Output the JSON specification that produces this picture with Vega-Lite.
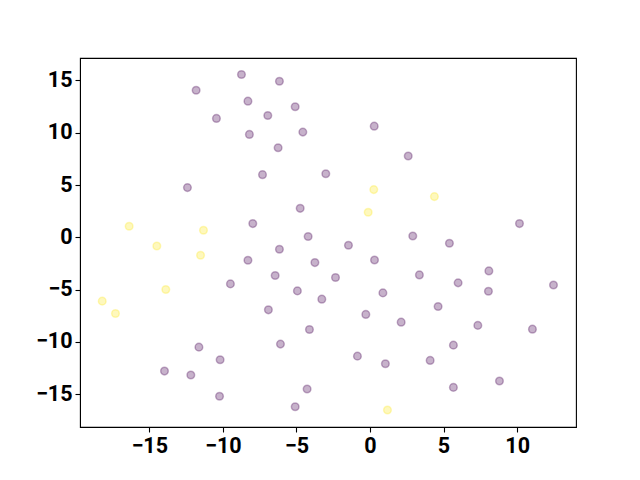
{
  "$schema": "https://vega.github.io/schema/vega-lite/v6.json",
  "width": 496,
  "height": 369,
  "autosize": {"type": "none"},
  "padding": {"left": 80, "top": 58, "right": 64, "bottom": 53},
  "background": "white",
  "config": {
    "view": {"stroke": "black", "strokeWidth": 1.1},
    "axis": {
      "grid": false,
      "domainColor": "black",
      "tickColor": "black",
      "tickSize": 5,
      "tickWidth": 1.1,
      "labelFont": "Roboto",
      "labelFontWeight": "bold",
      "labelFontSize": 21.5,
      "labelColor": "black",
      "labelPadding": 3,
      "title": null
    }
  },
  "data": {
    "values": [
      {"x": -8.73, "y": 15.57, "c": 0}, {"x": -6.15, "y": 14.93, "c": 0}, {"x": -11.81, "y": 14.07, "c": 0},
      {"x": -8.29, "y": 13.02, "c": 0}, {"x": -5.08, "y": 12.48, "c": 0}, {"x": -6.94, "y": 11.65, "c": 0},
      {"x": -10.43, "y": 11.37, "c": 0}, {"x": -4.56, "y": 10.06, "c": 0}, {"x": -8.19, "y": 9.84, "c": 0},
      {"x": -6.24, "y": 8.57, "c": 0}, {"x": -7.3, "y": 5.99, "c": 0}, {"x": -3.0, "y": 6.08, "c": 0},
      {"x": -12.4, "y": 4.75, "c": 0}, {"x": -4.74, "y": 2.77, "c": 0}, {"x": -7.96, "y": 1.31, "c": 0},
      {"x": -4.2, "y": 0.07, "c": 0}, {"x": 0.29, "y": 10.63, "c": 0}, {"x": 2.6, "y": 7.77, "c": 0},
      {"x": 10.16, "y": 1.31, "c": 0}, {"x": 2.91, "y": 0.12, "c": 0}, {"x": -1.46, "y": -0.76, "c": 0},
      {"x": 5.4, "y": -0.57, "c": 0}, {"x": -6.15, "y": -1.15, "c": 0}, {"x": -8.29, "y": -2.2, "c": 0},
      {"x": -3.74, "y": -2.42, "c": 0}, {"x": -6.44, "y": -3.66, "c": 0}, {"x": -9.48, "y": -4.46, "c": 0},
      {"x": -4.93, "y": -5.13, "c": 0}, {"x": -3.27, "y": -5.92, "c": 0}, {"x": -6.9, "y": -6.94, "c": 0},
      {"x": -4.11, "y": -8.82, "c": 0}, {"x": -6.08, "y": -10.22, "c": 0}, {"x": -11.62, "y": -10.51, "c": 0},
      {"x": -10.18, "y": -11.72, "c": 0}, {"x": -13.96, "y": -12.8, "c": 0}, {"x": -12.17, "y": -13.18, "c": 0},
      {"x": -10.22, "y": -15.21, "c": 0}, {"x": -4.27, "y": -14.52, "c": 0}, {"x": -5.08, "y": -16.21, "c": 0},
      {"x": 0.31, "y": -2.17, "c": 0}, {"x": -2.34, "y": -3.85, "c": 0}, {"x": 3.36, "y": -3.6, "c": 0},
      {"x": 8.08, "y": -3.22, "c": 0}, {"x": 5.99, "y": -4.36, "c": 0}, {"x": 8.05, "y": -5.16, "c": 0},
      {"x": 12.47, "y": -4.56, "c": 0}, {"x": 0.88, "y": -5.32, "c": 0}, {"x": 4.63, "y": -6.62, "c": 0},
      {"x": -0.28, "y": -7.38, "c": 0}, {"x": 2.12, "y": -8.12, "c": 0}, {"x": 7.33, "y": -8.43, "c": 0},
      {"x": 11.04, "y": -8.79, "c": 0}, {"x": 5.67, "y": -10.32, "c": 0}, {"x": -0.85, "y": -11.37, "c": 0},
      {"x": 1.05, "y": -12.1, "c": 0}, {"x": 4.09, "y": -11.78, "c": 0}, {"x": 8.8, "y": -13.75, "c": 0},
      {"x": 5.67, "y": -14.36, "c": 0},
      {"x": -16.36, "y": 1.05, "c": 1}, {"x": -11.31, "y": 0.67, "c": 1}, {"x": -14.48, "y": -0.83, "c": 1},
      {"x": -11.51, "y": -1.72, "c": 1}, {"x": -13.87, "y": -5.0, "c": 1}, {"x": -18.19, "y": -6.11, "c": 1},
      {"x": -17.29, "y": -7.29, "c": 1}, {"x": 0.26, "y": 4.56, "c": 1}, {"x": 4.38, "y": 3.89, "c": 1},
      {"x": -0.12, "y": 2.39, "c": 1}, {"x": 1.19, "y": -16.52, "c": 1}
    ]
  },
  "mark": {"type": "point", "shape": "circle", "filled": false, "size": 58, "strokeWidth": 1.5, "fillOpacity": 0.3, "strokeOpacity": 0.3},
  "encoding": {
    "x": {"field": "x", "type": "quantitative",
      "scale": {"domain": [-19.7, 14.0], "nice": false, "zero": false},
      "axis": {"values": [-15, -10, -5, 0, 5, 10]}},
    "y": {"field": "y", "type": "quantitative",
      "scale": {"domain": [-18.15, 17.15], "nice": false, "zero": false},
      "axis": {"values": [-15, -10, -5, 0, 5, 10, 15]}},
    "fill": {"field": "c", "type": "nominal", "scale": {"domain": [0, 1], "range": ["#440154", "#fde725"]}, "legend": null},
    "stroke": {"field": "c", "type": "nominal", "scale": {"domain": [0, 1], "range": ["#440154", "#fde725"]}, "legend": null}
  }
}
